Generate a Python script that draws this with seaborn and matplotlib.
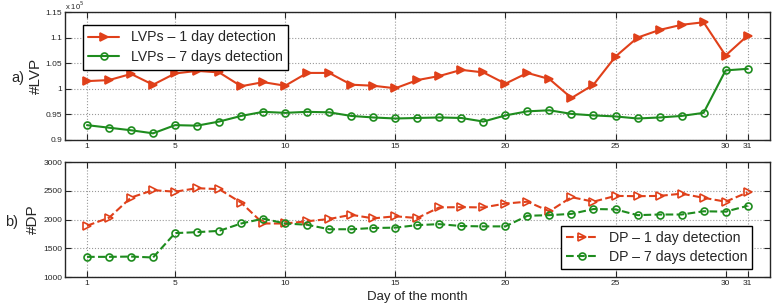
import numpy as np
import pandas as pd
import matplotlib
matplotlib.use('Agg')
import matplotlib.pyplot as plt
from matplotlib.ticker import FuncFormatter
import seaborn as sns

sns.set_style("ticks")
plt.rcParams['font.family'] = ['Liberation Sans', 'DejaVu Sans']

# Data
days = list(range(1, 32))
xticks = [1, 5, 10, 15, 20, 25, 30, 31]

lvp_1day = [1.015, 1.017, 1.029, 1.008, 1.030, 1.035, 1.032, 1.005, 1.013, 1.006,
            1.031, 1.031, 1.008, 1.006, 1.001, 1.017, 1.025, 1.037, 1.032, 1.010,
            1.031, 1.019, 0.982, 1.008, 1.063, 1.100, 1.115, 1.125, 1.130, 1.065, 1.104]
lvp_7days = [0.929, 0.924, 0.919, 0.913, 0.929, 0.928, 0.936, 0.947, 0.955, 0.953,
             0.955, 0.954, 0.947, 0.944, 0.942, 0.943, 0.944, 0.943, 0.936, 0.948,
             0.956, 0.958, 0.951, 0.948, 0.946, 0.942, 0.944, 0.947, 0.953, 1.036, 1.039]
dp_1day = [1894, 2033, 2384, 2512, 2485, 2546, 2529, 2295, 1933, 1933,
           1972, 2011, 2084, 2022, 2058, 2028, 2212, 2217, 2212, 2279,
           2312, 2145, 2390, 2312, 2412, 2407, 2412, 2451, 2379, 2312, 2473]
dp_7days = [1354, 1354, 1359, 1343, 1766, 1783, 1805, 1933, 2017, 1933,
            1911, 1833, 1833, 1855, 1861, 1905, 1922, 1889, 1883, 1883,
            2067, 2078, 2100, 2184, 2178, 2078, 2089, 2089, 2145, 2139, 2240]

RED = '#E0401A'
GREEN = '#1E8C1E'

df_top = pd.DataFrame({'day': days,
                       'LVPs – 1 day detection': np.array(lvp_1day) * 1e5,
                       'LVPs – 7 days detection': np.array(lvp_7days) * 1e5})
df_bot = pd.DataFrame({'day': days,
                       'DP – 1 day detection': dp_1day,
                       'DP – 7 days detection': dp_7days})

fig = plt.figure(figsize=(7.79, 3.04), dpi=100)
ax1 = fig.add_axes([0.0834, 0.5395, 0.9046, 0.421])
ax2 = fig.add_axes([0.0834, 0.088, 0.9046, 0.379])

# top panel
sns.lineplot(data=df_top, x='day', y='LVPs – 1 day detection', ax=ax1, color=RED,
             marker='>', markersize=6, markeredgewidth=1.2, markeredgecolor=RED,
             linewidth=1.5, label='LVPs – 1 day detection')
sns.lineplot(data=df_top, x='day', y='LVPs – 7 days detection', ax=ax1, color=GREEN,
             marker='o', markersize=5, markerfacecolor='none', markeredgewidth=1.2,
             markeredgecolor=GREEN, linewidth=1.5, label='LVPs – 7 days detection')
ax1.set_ylim(0.9e5, 1.15e5)
ax1.set_yticks([0.9e5, 0.95e5, 1.0e5, 1.05e5, 1.1e5, 1.15e5])
ax1.yaxis.set_major_formatter(FuncFormatter(lambda v, p: '%g' % round(v / 1e5, 2)))
ax1.text(0.0, 1.002, r'x 10$^5$', transform=ax1.transAxes, fontsize=5.5,
         ha='left', va='bottom')
ax1.set_ylabel('#LVP', fontsize=11, labelpad=2)
ax1.set_xlabel('')
ax1.legend(loc='upper left', bbox_to_anchor=(0.025, 0.9), fontsize=10.2,
           frameon=True, fancybox=False, edgecolor='black', framealpha=1,
           borderpad=0.4, handlelength=2.2, labelspacing=0.4, borderaxespad=0)

# bottom panel
sns.lineplot(data=df_bot, x='day', y='DP – 1 day detection', ax=ax2, color=RED,
             marker='>', markersize=6, markerfacecolor='none', markeredgewidth=1.2,
             markeredgecolor=RED, linewidth=1.5, linestyle='--', dashes=(4, 3),
             label='DP – 1 day detection')
sns.lineplot(data=df_bot, x='day', y='DP – 7 days detection', ax=ax2, color=GREEN,
             marker='o', markersize=5, markerfacecolor='none', markeredgewidth=1.2,
             markeredgecolor=GREEN, linewidth=1.5, linestyle='--', dashes=(4, 3),
             label='DP – 7 days detection')
ax2.set_ylim(1000, 3000)
ax2.set_yticks([1000, 1500, 2000, 2500, 3000])
ax2.set_ylabel('#DP', fontsize=11, labelpad=2)
ax2.set_xlabel('Day of the month', fontsize=9.5, va='bottom')
ax2.xaxis.set_label_coords(0.0834 + 0.9046 / 2, 0.002, transform=fig.transFigure)
ax2.legend(loc='lower right', bbox_to_anchor=(0.975, 0.07), fontsize=10.2,
           frameon=True, fancybox=False, edgecolor='black', framealpha=1,
           borderpad=0.35, handlelength=2.2, labelspacing=0.35, borderaxespad=0)

for ax in (ax1, ax2):
    ax.set_xlim(0, 32)
    ax.set_xticks(xticks)
    ax.grid(True, linestyle=':', color='#999999', linewidth=0.8)
    ax.tick_params(direction='in', top=True, right=True, labelsize=6, length=4,
                   width=0.8, pad=2)
    for s in ax.spines.values():
        s.set_linewidth(1.0)
        s.set_visible(True)

fig.text(0.015, 0.745, 'a)', fontsize=10.5, ha='left', va='center')
fig.text(0.006, 0.27, 'b)', fontsize=10.5, ha='left', va='center')

fig.savefig('out.png', dpi=100)
